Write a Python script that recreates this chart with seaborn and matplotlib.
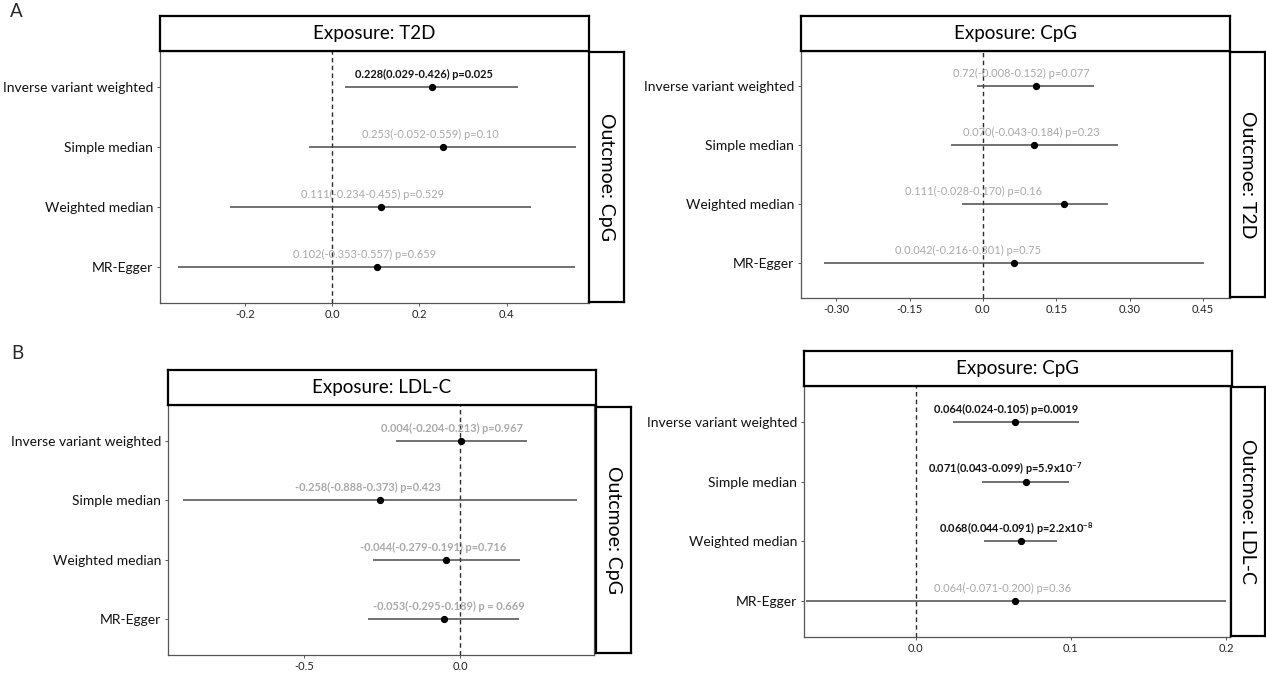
import numpy as np
import pandas as pd
import matplotlib
matplotlib.use("Agg")
import matplotlib.pyplot as plt
import seaborn as sns

# ---------------------------------------------------------------- data
methods = ["Inverse variant weighted", "Simple median", "Weighted median", "MR-Egger"]

# A: exposure T2D, outcome CpG
a1_est = [0.228, 0.253, 0.111, 0.102]
a1_lo = [0.029, -0.052, -0.234, -0.353]
a1_hi = [0.426, 0.559, 0.455, 0.557]
a1_text = ["0.228(0.029-0.426) p=0.025",
           "0.253(-0.052-0.559) p=0.10",
           "0.111(-0.234-0.455) p=0.529",
           "0.102(-0.353-0.557) p=0.659"]
a1_sig = [True, False, False, False]
a1_ticks = [-0.2, 0.0, 0.2, 0.4]
a1_ticklabels = ["-0.2", "0.0", "0.2", "0.4"]

# A: exposure CpG, outcome T2D
a2_est = [0.072, 0.070, 0.111, 0.042]
a2_lo = [-0.008, -0.043, -0.028, -0.216]
a2_hi = [0.152, 0.184, 0.170, 0.301]
a2_text = ["0.72(-0.008-0.152) p=0.077",
           "0.070(-0.043-0.184) p=0.23",
           "0.111(-0.028-0.170) p=0.16",
           "0.0.042(-0.216-0.301) p=0.75"]
a2_sig = [False, False, False, False]
a2_ticks = [-0.2, -0.1, 0.0, 0.1, 0.2, 0.3]
a2_ticklabels = ["-0.30", "-0.15", "0.0", "0.15", "0.30", "0.45"]

# B: exposure LDL-C, outcome CpG
b1_est = [0.004, -0.258, -0.044, -0.053]
b1_lo = [-0.204, -0.888, -0.279, -0.295]
b1_hi = [0.213, 0.373, 0.191, 0.189]
b1_text = ["0.004(-0.204-0.213) p=0.967",
           "-0.258(-0.888-0.373) p=0.423",
           "-0.044(-0.279-0.191) p=0.716",
           "-0.053(-0.295-0.189) p = 0.669"]
b1_sig = [False, False, False, False]
b1_ticks = [-0.5, 0.0]
b1_ticklabels = ["-0.5", "0.0"]

# B: exposure CpG, outcome LDL-C
b2_est = [0.064, 0.071, 0.068, 0.064]
b2_lo = [0.024, 0.043, 0.044, -0.071]
b2_hi = [0.105, 0.099, 0.091, 0.200]
b2_text = ["0.064(0.024-0.105) p=0.0019",
           "0.071(0.043-0.099) p=5.9x10$^{-7}$",
           "0.068(0.044-0.091) p=2.2x10$^{-8}$",
           "0.064(-0.071-0.200) p=0.36"]
b2_sig = [True, True, True, False]
b2_ticks = [0.0, 0.1, 0.2]
b2_ticklabels = ["0.0", "0.1", "0.2"]

exposures = ["Exposure: T2D", "Exposure: CpG", "Exposure: LDL-C", "Exposure: CpG"]
outcomes = ["Outcmoe: CpG", "Outcmoe: T2D", "Outcmoe: CpG", "Outcmoe: LDL-C"]
panel_letters = ["A", "B"]

# ---------------------------------------------------------------- style
sns.set_style("white")
plt.rcParams["font.family"] = ["Lato", "DejaVu Sans"]
plt.rcParams["axes.unicode_minus"] = False
plt.rcParams["mathtext.fontset"] = "custom"
plt.rcParams["mathtext.rm"] = "Lato"
plt.rcParams["mathtext.bf"] = "Lato:bold"
plt.rcParams["mathtext.default"] = "bf"

W, H = 1266, 679
fig = plt.figure(figsize=(W / 100, H / 100), dpi=100)
PX = 72 / 100  # points per pixel


def frac(x0, y0, x1, y1):
    return [x0 / W, 1 - y1 / H, (x1 - x0) / W, (y1 - y0) / H]


# plot box, top strip, right strip (pixel boxes), x limits, label nudges
layout = [
    dict(plot=(160, 51, 589, 303), top=(160, 16, 589, 51), right=(589, 52, 624, 302),
         xlim=(-0.394, 0.588), nudge=[-8, -12, -8, -12]),
    dict(plot=(801, 51, 1230, 298), top=(801, 16, 1230, 51), right=(1230, 52, 1265, 297),
         xlim=(-0.248, 0.337), nudge=[-14, -3, -91, -46]),
    dict(plot=(168, 405, 594, 655), top=(168, 370, 596, 405), right=(596, 407, 631, 653),
         xlim=(-0.936, 0.429), nudge=[-9, -12, -13, 5]),
    dict(plot=(804, 386, 1230, 637), top=(804, 351, 1232, 386), right=(1231, 387, 1265, 636),
         xlim=(-0.072, 0.2026), nudge=[-9, -21, -5, -12]),
]

panels = [
    (a1_est, a1_lo, a1_hi, a1_text, a1_sig, a1_ticks, a1_ticklabels, False),
    (a2_est, a2_lo, a2_hi, a2_text, a2_sig, a2_ticks, a2_ticklabels, False),
    (b1_est, b1_lo, b1_hi, b1_text, b1_sig, b1_ticks, b1_ticklabels, True),
    (b2_est, b2_lo, b2_hi, b2_text, b2_sig, b2_ticks, b2_ticklabels, False),
]

for i, (est, lo, hi, text, sig, ticks, ticklabels, bold_grey) in enumerate(panels):
    lay = layout[i]
    ax = fig.add_axes(frac(*lay["plot"]))
    df = pd.DataFrame({"method": methods, "est": est, "lo": lo, "hi": hi})

    sns.pointplot(data=df, x="est", y="method", orient="h", color="black",
                  linestyle="none", marker="o", markersize=3.2, errorbar=None,
                  zorder=4, ax=ax)
    pos = np.arange(len(methods))
    ax.hlines(pos, df["lo"], df["hi"], color="#4a4a4a", lw=1.1, zorder=2)
    ax.axvline(0, color="#2b2b2b", lw=1.0, ls=(0, (3.2, 2.4)), zorder=1)

    ax.set_ylim(len(methods) - 0.4, -0.6)
    ax.set_xlim(*lay["xlim"])
    ax.set_xticks(ticks)
    ax.set_xticklabels(ticklabels)
    ax.set_xlabel("")
    ax.set_ylabel("")
    ax.tick_params(axis="x", length=2.5, width=0.7, color="#555555", pad=2,
                   labelsize=8, labelcolor="#222222")
    ax.tick_params(axis="y", length=2.0, width=0.7, color="#555555", pad=3,
                   labelsize=10, labelcolor="#111111")
    ax.tick_params(bottom=True, left=True)
    for s in ax.spines.values():
        s.set_visible(True)
        s.set_color("#555555")
        s.set_linewidth(0.9)

    for k in range(len(methods)):
        if sig[k]:
            color, weight = "#111111", "bold"
        else:
            color, weight = "#a8a8a8", ("bold" if bold_grey else "normal")
        ax.annotate(text[k], xy=(est[k], pos[k]),
                    xytext=(lay["nudge"][k] * PX, 12.5 * PX), textcoords="offset points",
                    ha="center", va="center", fontsize=7.9, color=color,
                    fontweight=weight, zorder=5)

    # facet strips
    sa = fig.add_axes(frac(*lay["top"]))
    sa.set_xticks([])
    sa.set_yticks([])
    for s in sa.spines.values():
        s.set_visible(True)
        s.set_color("black")
        s.set_linewidth(1.6)
    sa.text(0.5, 0.5, exposures[i], ha="center", va="center", fontsize=13.5,
            color="black", transform=sa.transAxes)

    sr = fig.add_axes(frac(*lay["right"]))
    sr.set_xticks([])
    sr.set_yticks([])
    for s in sr.spines.values():
        s.set_visible(True)
        s.set_color("black")
        s.set_linewidth(1.6)
    sr.text(0.5, 0.5, outcomes[i], ha="center", va="center", fontsize=14,
            rotation=-90, color="black", transform=sr.transAxes)

fig.text(10 / W, 1 - 3 / H, panel_letters[0], ha="left", va="top", fontsize=13.5)
fig.text(11 / W, 1 - 345 / H, panel_letters[1], ha="left", va="top", fontsize=13.5)

fig.savefig("out.png", dpi=100, facecolor="white")
